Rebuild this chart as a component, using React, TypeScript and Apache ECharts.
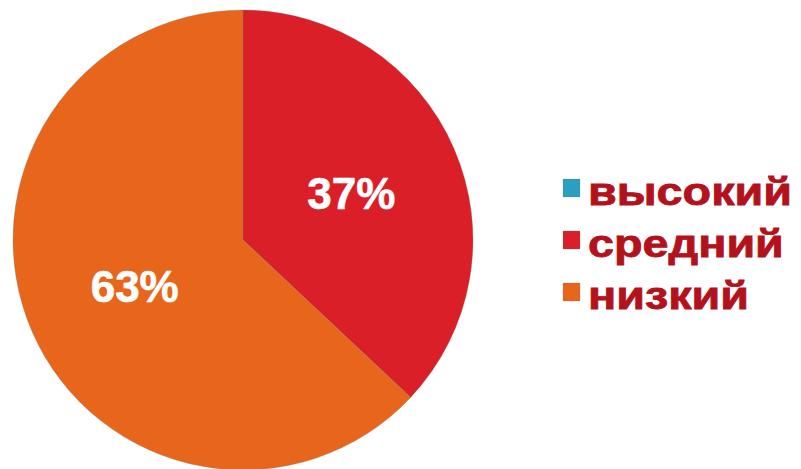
import React, { useEffect, useRef } from "react";
import * as echarts from "echarts";

const categories = ["высокий", "средний", "низкий"];
const values = [0, 37, 63];
const colors = ["#2A9FBF", "#DA1F28", "#E8661C"];

export default function App() {
  const ref = useRef<HTMLDivElement>(null);
  useEffect(() => {
    const chart = echarts.init(ref.current!, null, { renderer: "svg" });
    const legendX = 563;
    const legendY0 = 192;
    const legendGap = 52;
    const legendGraphics: any[] = [];
    categories.forEach((name, i) => {
      const cy = legendY0 + i * legendGap;
      legendGraphics.push({
        type: "rect",
        shape: { x: legendX, y: cy - 13, width: 17, height: 18 },
        style: { fill: colors[i], stroke: "rgba(120,120,120,0.35)", lineWidth: 0.6 },
        silent: true,
      });
      legendGraphics.push({
        type: "text",
        x: legendX + 25,
        y: cy,
        scaleX: 1.23,
        style: {
          text: name,
          fill: "#B3111C",
          stroke: "#B3111C",
          lineWidth: 0.8,
          font: "bold 38px 'Liberation Sans', Arial, sans-serif",
          textVerticalAlign: "middle",
          verticalAlign: "middle",
          textAlign: "left",
          align: "left",
        },
        silent: true,
      });
    });
    chart.setOption({
      animation: false,
      backgroundColor: "#ffffff",
      graphic: legendGraphics,
      series: [
        {
          type: "pie",
          center: [243, 240],
          radius: 230,
          startAngle: 90,
          clockwise: true,
          silent: true,
          itemStyle: { borderColor: "rgba(120,120,120,0.5)", borderWidth: 0.6 },
          label: {
            position: "inside",
            color: "#ffffff",
            fontSize: 44,
            fontWeight: "bold",
            fontFamily: "Liberation Sans, Arial, sans-serif",
            textBorderColor: "#ffffff",
            textBorderWidth: 0.6,
            formatter: (p: any) => (p.value > 0 ? p.value + "%" : ""),
          },
          labelLine: { show: false },
          data: categories.map((name, i) => ({
            name,
            value: values[i],
            itemStyle: { color: colors[i] },
          })),
        },
      ],
    });
    return () => chart.dispose();
  }, []);
  return (
    <div
      ref={ref}
      style={{ position: "fixed", left: 0, top: 0, width: 801, height: 469 }}
    />
  );
}
